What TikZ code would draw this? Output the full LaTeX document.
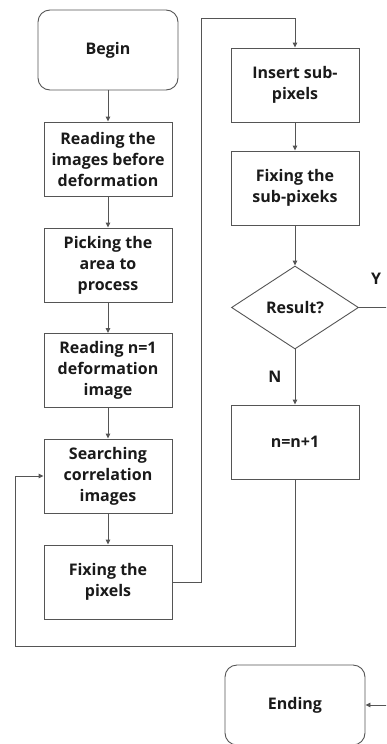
\documentclass[tikz,border=0pt]{standalone}
\usepackage{fontspec}
\setmainfont{Open Sans}
\usetikzlibrary{shapes.geometric,arrows.meta}
\definecolor{ln}{HTML}{555555}
\definecolor{tx}{HTML}{1A1A1A}
\tikzset{
  box/.style={draw=ln, line width=0.9pt, minimum width=128pt, minimum height=74pt, align=center, inner sep=2pt,
    text=tx, font=\bfseries\fontsize{16}{21}\selectfont},
  term/.style={box, minimum width=140pt, minimum height=80pt, rounded corners=12pt},
  dec/.style={box, diamond, shape aspect=1.5, minimum width=127pt, minimum height=83pt, inner sep=0pt},
  arr/.style={draw=ln, line width=0.9pt, -{Triangle[length=5pt,width=4.5pt]}},
  lbl/.style={text=tx, font=\bfseries\fontsize{16}{18}\selectfont}
}
\begin{document}
\begin{tikzpicture}[x=1pt,y=-1pt]
\clip (0,0) rectangle (386,744);
\fill[white] (0,0) rectangle (386,744);
\node[term] (begin) at (108,50) {Begin};
\node[box] (read) at (108,159) {Reading the\\images before\\deformation};
\node[box] (pick) at (108,265) {Picking the\\area to\\process};
\node[box] (readn) at (108,370.5) {Reading n=1\\deformation\\image};
\node[box] (search) at (108,476) {Searching\\correlation\\images};
\node[box] (fixp) at (108,582) {Fixing the\\pixels};
\node[box] (insert) at (295,85) {Insert sub-\\pixels};
\node[box] (fixs) at (295,188) {Fixing the\\sub-pixeks};
\node[dec] (res) at (295,307.5) {Result?};
\node[box] (nn) at (295,442) {n=n+1};
\node[term] (ending) at (295,705) {Ending};
\node[lbl] (ylab) at (376,279) {Y};
\node[lbl] (nlab) at (275,377) {N};
\coordinate (c1) at (201,18);
\coordinate (c2) at (395,705);
\coordinate (c3) at (15,646);
\draw[arr] (begin) -- (read);
\draw[arr] (read) -- (pick);
\draw[arr] (pick) -- (readn);
\draw[arr] (readn) -- (search);
\draw[arr] (search) -- (fixp);
\draw[arr] (fixp.east) -| (c1) -| (insert.north);
\draw[arr] (insert) -- (fixs);
\draw[arr] (fixs) -- (res);
\draw[arr] (res) -- (nn);
\draw[arr] (res.east) -| (c2) -- (ending.east);
\draw[arr] (nn.south) |- (c3) |- (search.west);
\end{tikzpicture}
\end{document}
